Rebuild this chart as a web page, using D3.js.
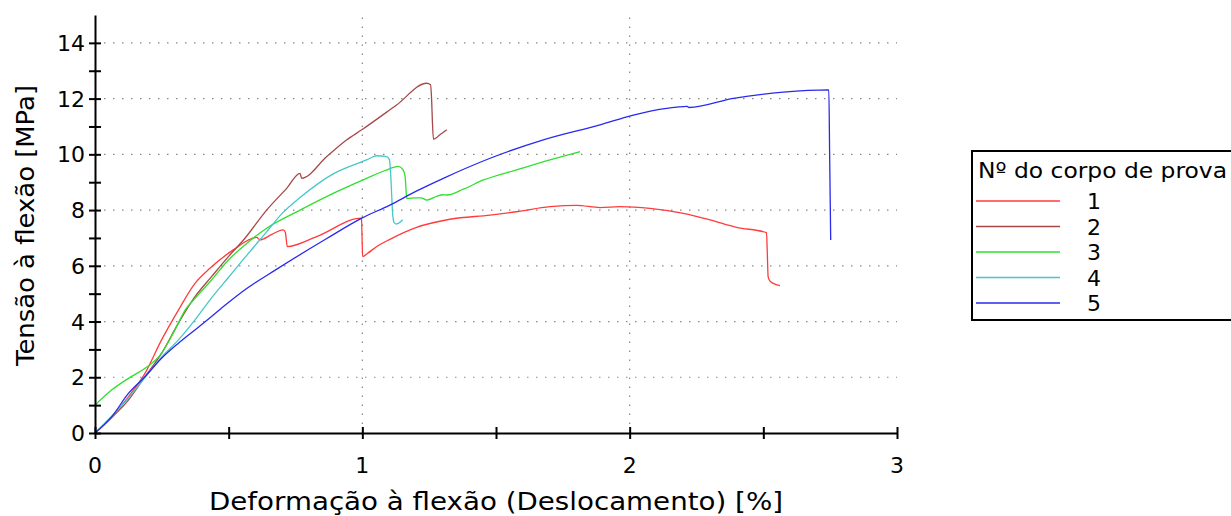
<!DOCTYPE html>
<html><head><meta charset="utf-8">
<script src="https://cdn.jsdelivr.net/npm/d3@7/dist/d3.min.js"></script>
<style>body{margin:0;background:#fff}svg{display:block}text{font-family:"DejaVu Sans",Verdana,sans-serif;fill:#000}</style>
</head><body><svg id="c" width="1231" height="516"></svg>
<script>
const seriesNames = ["1","2","3","4","5"];
const seriesColors = ["#ff3b3b","#a84848","#2ee02e","#46c8c8","#2a2aee"];
const s1 = [[0,0],[0.062,0.58],[0.125,1.30],[0.187,2.14],[0.249,3.34],[0.312,4.41],[0.374,5.37],[0.43,5.91],[0.517,6.57],[0.605,7.02],[0.617,6.93],[0.66,7.12],[0.704,7.29],[0.712,7.2],[0.716,6.9],[0.719,6.69],[0.829,7.05],[0.997,7.71],[0.999,7.0],[1.001,6.33],[1.02,6.45],[1.054,6.69],[1.103,6.95],[1.203,7.38],[1.328,7.67],[1.478,7.82],[1.577,7.94],[1.702,8.12],[1.802,8.17],[1.889,8.09],[1.964,8.12],[2.076,8.06],[2.201,7.88],[2.30,7.65],[2.40,7.38],[2.512,7.19],[2.515,6.4],[2.518,5.6],[2.525,5.45],[2.537,5.37],[2.562,5.29]];
const s2 = [[0,0],[0.062,0.55],[0.125,1.18],[0.187,2.02],[0.249,2.86],[0.312,3.94],[0.374,4.89],[0.436,5.61],[0.499,6.33],[0.561,6.99],[0.642,8.00],[0.717,8.78],[0.767,9.32],[0.773,9.14],[0.867,9.92],[0.942,10.52],[0.998,10.88],[1.128,11.77],[1.241,12.55],[1.255,12.5],[1.259,12.0],[1.262,11.2],[1.266,10.54],[1.29,10.70],[1.316,10.88]];
const s3 = [[0,1.0],[0.062,1.54],[0.125,1.96],[0.187,2.32],[0.249,2.86],[0.299,3.70],[0.337,4.41],[0.374,4.83],[0.436,5.49],[0.499,6.21],[0.561,6.75],[0.642,7.35],[0.767,8.00],[0.891,8.60],[1.016,9.14],[1.085,9.42],[1.135,9.57],[1.152,9.45],[1.16,9.2],[1.163,8.8],[1.166,8.42],[1.2,8.44],[1.22,8.44],[1.241,8.36],[1.28,8.5],[1.3,8.55],[1.316,8.54],[1.38,8.76],[1.453,9.08],[1.58,9.45],[1.702,9.80],[1.814,10.10]];
const s4 = [[0,0],[0.062,0.6],[0.125,1.25],[0.187,2.0],[0.249,2.72],[0.312,3.34],[0.374,4.06],[0.436,4.85],[0.499,5.58],[0.561,6.3],[0.642,7.22],[0.70,7.88],[0.767,8.45],[0.891,9.3],[1.016,9.80],[1.054,9.95],[1.091,9.92],[1.101,9.82],[1.106,9.3],[1.110,8.5],[1.114,7.8],[1.119,7.55],[1.128,7.50],[1.151,7.65]];
const s5 = [[0,0],[0.062,0.58],[0.125,1.42],[0.187,2.02],[0.249,2.68],[0.312,3.22],[0.374,3.70],[0.436,4.18],[0.499,4.68],[0.561,5.14],[0.68,5.88],[0.867,6.98],[0.998,7.71],[1.103,8.18],[1.2,8.67],[1.303,9.14],[1.478,9.86],[1.677,10.52],[1.889,11.06],[2.014,11.41],[2.138,11.65],[2.215,11.72],[2.222,11.68],[2.388,12.01],[2.575,12.23],[2.745,12.31],[2.748,10.0],[2.752,6.93]];
const seriesData = [s1,s2,s3,s4,s5];
const xTicks = [0,1,2,3];
const yTicks = [0,2,4,6,8,10,12,14];
const xTitle = "Deformação à flexão (Deslocamento) [%]";
const yTitle = "Tensão à flexão [MPa]";
const legendTitle = "Nº do corpo de prova";

const svg = d3.select("#c");
const x = d3.scaleLinear().domain([0,3]).range([95,897]);
const y = d3.scaleLinear().domain([0,15]).range([433,15]);

// grid
const g = svg.append("g");
g.selectAll(".hg").data(yTicks.filter(d=>d>0)).join("line")
 .attr("x1",x(0)).attr("x2",x(3)).attr("y1",d=>y(d)).attr("y2",d=>y(d))
 .attr("stroke","#888").attr("stroke-width",1.2).attr("stroke-dasharray","1.5,7.5");
g.selectAll(".vg").data([1,2]).join("line")
 .attr("x1",d=>x(d)).attr("x2",d=>x(d)).attr("y1",y(0)).attr("y2",y(15))
 .attr("stroke","#888").attr("stroke-width",1.2).attr("stroke-dasharray","1.5,7.5");

// lines
const line = d3.line().x(d=>x(d[0])).y(d=>y(d[1])).curve(d3.curveMonotoneX);
seriesData.forEach((s,i)=>{
  svg.append("path").datum(s).attr("d",line).attr("fill","none")
   .attr("stroke",seriesColors[i]).attr("stroke-width",1.3).attr("stroke-linejoin","round");
});

// axes
const xa = svg.append("g").attr("transform",`translate(0,${y(0)})`)
 .call(d3.axisBottom(x).tickValues(d3.range(0,3.01,0.5)).tickSize(0).tickFormat(""));
xa.select(".domain").attr("stroke","#000").attr("stroke-width",2);
xa.selectAll(".tick line").attr("y1",-6).attr("y2",6).attr("stroke","#000").attr("stroke-width",2);
xa.selectAll(".lab").data(xTicks).join("text").attr("x",d=>x(d)).attr("y",40)
 .attr("text-anchor","middle").attr("font-size",22).text(d=>d);

const ya = svg.append("g").attr("transform",`translate(${x(0)},0)`)
 .call(d3.axisLeft(y).tickValues(d3.range(0,15,1)).tickSize(0).tickFormat(""));
ya.select(".domain").attr("stroke","#000").attr("stroke-width",2);
ya.selectAll(".tick line").attr("x1",-6).attr("x2",6).attr("stroke","#000").attr("stroke-width",2);
ya.selectAll(".lab").data(yTicks).join("text").attr("x",-10).attr("y",d=>y(d)+8)
 .attr("text-anchor","end").attr("font-size",22).text(d=>d);

svg.append("text").attr("x",209).attr("y",510).attr("font-size",24)
 .attr("textLength",574).attr("lengthAdjust","spacingAndGlyphs").text(xTitle);
svg.append("text").attr("transform","translate(34,366) rotate(-90)").attr("font-size",24)
 .attr("textLength",281).attr("lengthAdjust","spacingAndGlyphs").text(yTitle);

// legend
const lg = svg.append("g");
lg.append("rect").attr("x",972).attr("y",151).attr("width",270).attr("height",169)
 .attr("fill","#fff").attr("stroke","#000").attr("stroke-width",2);
lg.append("text").attr("x",978).attr("y",178).attr("font-size",21)
 .attr("textLength",249).attr("lengthAdjust","spacingAndGlyphs").text(legendTitle);
seriesNames.forEach((n,i)=>{
  const yy = 201 + i*25.5;
  lg.append("line").attr("x1",976).attr("x2",1060).attr("y1",yy).attr("y2",yy)
   .attr("stroke",seriesColors[i]).attr("stroke-width",1.6);
  lg.append("text").attr("x",1087).attr("y",yy+8).attr("font-size",22).text(n);
});
</script></body></html>
